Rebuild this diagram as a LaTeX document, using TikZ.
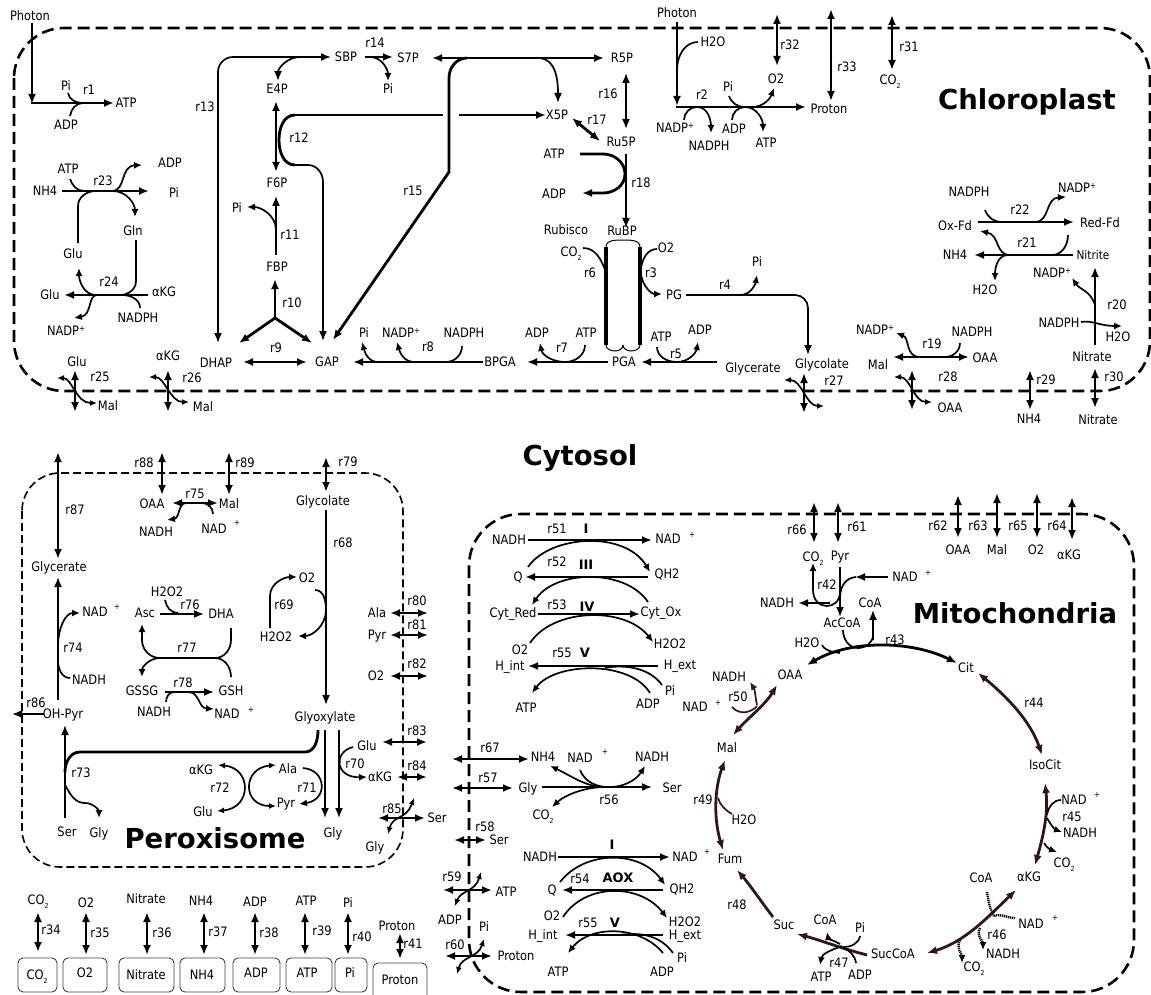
\documentclass[tikz,border=0pt]{standalone}
\usepackage{fontspec}
\setmainfont{DejaVu Sans}[FakeStretch=0.88]
\newfontfamily\bigf{DejaVu Sans}
\usetikzlibrary{arrows.meta}
\definecolor{tcac}{RGB}{50,22,22}
\newcommand\fs{\fontsize{13}{14}\selectfont}
\newcommand\COt{CO\raisebox{-3.5pt}{\fontsize{7}{7}\selectfont 2}}
\newcommand\NADPp{NADP\raisebox{4pt}{\fontsize{8}{8}\selectfont +}}
\newcommand\Lb[3]{\node[lab] (#1) at (#2) {#3};}
\newcommand\Pl[2]{\node[smp] (#1) at (#2) {+};}
\begin{document}
\begin{tikzpicture}[x=1pt,y=-1pt,
  lab/.style={inner sep=0pt,text height=9.5pt,text depth=0pt,font=\fs},
  smp/.style={inner sep=0pt,font=\fontsize{8}{8}\selectfont},
  big/.style={inner sep=0pt,font=\bigf\bfseries\fontsize{27.5}{30}\selectfont},
  rom/.style={inner sep=0pt,font=\bigf\bfseries\fontsize{13}{14}\selectfont},
  mn/.style={line width=2.8pt},
  md/.style={line width=2.2pt},
  tn/.style={line width=1.7pt},
  ar/.style={-{Latex[length=10pt,width=8pt]}},
  dar/.style={{Latex[length=10pt,width=8pt]}-{Latex[length=10pt,width=8pt]}},
  sar/.style={-{Latex[length=8pt,width=7pt]}},
  sdar/.style={{Latex[length=7pt,width=6pt]}-{Latex[length=7pt,width=6pt]}},
  memb/.style={line width=2.6pt,dash pattern=on 12pt off 6pt},
  pmemb/.style={line width=1.6pt,dash pattern=on 8pt off 4pt},
  tca/.style={draw=tcac},
  hatch/.style={line width=2.4pt,dash pattern=on 1.2pt off 0.8pt},
  xbox/.style={draw=black!75,line width=0.9pt,rounded corners=5pt}
]
\useasboundingbox (0,0) rectangle (1151,995);
% ================= compartments
\draw[memb, rounded corners=50pt] (14,28) rectangle (1150,391);
\draw[pmemb, rounded corners=38pt] (22,473) rectangle (403,867);
\draw[memb, rounded corners=52pt] (469,514) rectangle (1134,992);
\node[big] (chl) at (1027,102) {Chloroplast};
\node[big] (cyt) at (580,458) {Cytosol};
\node[big] (mit) at (1015,613) {Mitochondria};
\node[big] (per) at (215,838) {Peroxisome};
% ================= r1
\Lb{phA}{30,16}{Photon}
\Lb{piA}{66,86}{Pi}
\Lb{r1}{89,90}{r1}
\Lb{atpA}{126,103}{ATP}
\Lb{adpA}{66,125}{ADP}
\draw[md,ar] (32,23) -- (32,104);
\draw[md,ar] (31,103) -- (114,103);
\draw[tn] (68,93) to[out=-80,in=180] (83,103);
\draw[tn] (70,116) to[out=80,in=180] (83,103);
% ================= r23 / r24
\Lb{atpB}{68,169}{ATP}
\Lb{r23}{103,181}{r23}
\Lb{adpB}{170,163}{ADP}
\Lb{nhA}{45,191}{NH4}
\Lb{piB}{174,193}{Pi}
\Lb{gln}{133,231}{Gln}
\Lb{gluA}{73,254}{Glu}
\Lb{gluB}{50,295}{Glu}
\Lb{akgA}{164,292}{αKG}
\Lb{r24}{109,282}{r24}
\Lb{nadphA}{138,318}{NADPH}
\Lb{nadpA}{66,331}{\NADPp}
\draw[mn,ar] (62,191) -- (149,191);
\draw[tn] (70,179) to[out=-70,in=180] (84,191);
\draw[tn,sar] (112,191) .. controls (126,191) and (120,166) .. (142,165);
\draw[tn,sar] (113,191) to[out=0,in=90] (135,217);
\draw[tn] (78,243) -- (78,206) to[out=90,in=180] (96,191);
\draw[tn] (136,240) -- (136,281) to[out=-90,in=0] (120,295);
\draw[mn,ar] (148,295) -- (64,295);
\draw[tn,sar] (96,295) to[out=180,in=-90] (79,268);
\draw[tn] (140,308) to[out=90,in=0] (122,295);
\draw[tn,sar] (97,295) .. controls (88,295) and (92,315) .. (74,318);
% ================= Calvin cycle
\Lb{e4p}{277,89}{E4P}
\Lb{f6p}{277,183}{F6P}
\Lb{fbp}{277,267}{FBP}
\Lb{r12}{299,138}{r12}
\Lb{r13}{205,107}{r13}
\Lb{r11}{290,235}{r11}
\Lb{piC}{237,208}{Pi}
\Lb{r10}{292,303}{r10}
\Lb{dhap}{216,363}{DHAP}
\Lb{r9}{276,348}{r9}
\Lb{gap}{327,362}{GAP}
\Lb{sbp}{346,57}{SBP}
\Lb{r14}{375,43}{r14}
\Lb{s7p}{408,58}{S7P}
\Lb{piD}{388,89}{Pi}
\Lb{r5p}{622,58}{R5P}
\Lb{x5p}{557,115}{X5P}
\Lb{r15}{413,191}{r15}
\Lb{r16}{608,94}{r16}
\Lb{ru5p}{621,142}{Ru5P}
\Lb{r17}{597,120}{r17}
\Lb{atpC}{554,154}{ATP}
\Lb{adpC}{554,194}{ADP}
\Lb{r18}{641,183}{r18}
\Lb{rubp}{622,231}{RuBP}
\Lb{rubisco}{566,230}{Rubisco}
\Lb{coA}{571,252}{\COt}
\Lb{r6}{590,273}{r6}
\Lb{r3}{651,273}{r3}
\Lb{oA}{666,248}{O2}
\Lb{pg}{674,295}{PG}
\Lb{r4}{725,285}{r4}
\Lb{piE}{757,262}{Pi}
\Lb{glyc}{822,364}{Glycolate}
\Lb{r27}{834,381}{r27}
\Lb{glyA}{753,368}{Glycerate}
\Lb{pga}{624,362}{PGA}
\Lb{atpD}{661,337}{ATP}
\Lb{adpD}{700,330}{ADP}
\Lb{r5}{676,354}{r5}
\Lb{adpE}{537,333}{ADP}
\Lb{atpE}{586,333}{ATP}
\Lb{r7}{562,348}{r7}
\Lb{bpga}{500,362}{BPGA}
\Lb{nadphB}{464,333}{NADPH}
\Lb{nadpB}{401,333}{\NADPp}
\Lb{piF}{364,333}{Pi}
\Lb{r8}{428,347}{r8}
% r12
\draw[mn,dar] (276,101) -- (276,172);
\draw[mn] (295,115) to[out=180,in=90] (279,140) to[out=-90,in=180] (295,165);
\draw[mn] (295,115) -- (443,115);
\draw[mn,ar] (459,115) -- (546,115);
\draw[tn,ar] (295,165) -- (308,165) to[out=0,in=90] (323,182) -- (323,341);
% r13
\draw[tn,dar] (218,343) -- (218,72) to[out=90,in=180] (233,57) -- (331,57);
\draw[tn,ar] (300,57) to[out=180,in=90] (278,81);
% r14
\draw[mn,ar] (365,57) -- (393,57);
\draw[tn,sar] (370,57) to[out=0,in=90] (388,81);
% r15
\draw[mn,dar] (432,58) -- (604,58);
\draw[tn,ar] (538,58) to[out=0,in=90] (558,103);
\draw[mn,ar] (467,58) to[out=180,in=90] (449,78) -- (449,172) -- (333,340);
% r16 r17 r18
\draw[tn,dar] (626,73) -- (626,129);
\draw[mn,dar] (572,118) -- (600,141);
\draw[tn,ar] (626,154) -- (626,228);
\draw[mn,ar] (580,154) -- (603,154) to[out=0,in=90] (625,174) to[out=-90,in=0] (603,193) -- (582,193);
% r6 / r3
\draw[line width=3.5pt] (606,247) -- (606,345);
\draw[line width=3.5pt] (640,247) -- (640,345);
\draw[line width=1pt] (606,247) to[out=90,in=180] (623,240) to[out=0,in=90] (640,247);
\draw[line width=1pt] (606,345) to[out=-90,in=180] (615,351) to[out=0,in=-90] (623,345);
\draw[line width=1pt] (640,345) to[out=-90,in=0] (631,351) to[out=180,in=-90] (623,345);
\draw[tn] (583,248) to[out=0,in=110] (605,270);
\draw[tn] (657,249) to[out=180,in=80] (641,268);
\draw[tn,sar] (641,275) to[out=-80,in=180] (662,294);
% r4
\draw[tn,ar] (686,295) -- (795,295) to[out=0,in=90] (808,308) -- (808,355);
\draw[tn,sar] (740,295) to[out=0,in=-100] (757,275);
% r27
\draw[mn,dar] (804,373) -- (804,413);
\draw[tn,sdar] (784,380) .. controls (802,380) and (806,406) .. (824,406);
% r5 r7 r8
\draw[mn,ar] (717,362) -- (641,362);
\draw[tn,sar] (657,347) to[out=-90,in=180] (677,362) to[out=0,in=-100] (698,342);
\draw[mn,ar] (608,362) -- (527,362);
\draw[tn,sar] (585,345) to[out=-90,in=0] (565,362) to[out=180,in=-80] (540,343);
\draw[mn,ar] (483,362) -- (353,362);
\draw[tn,sar] (462,346) to[out=-90,in=0] (446,362) -- (414,362) to[out=180,in=-75] (397,342);
\draw[tn,sar] (378,362) to[out=180,in=-75] (362,342);
% r9 r10 r11
\draw[mn,dar] (243,362) -- (307,362);
\draw[mn,ar] (275,318) -- (275,279);
\draw[mn,ar] (275,318) -- (239,343);
\draw[mn,ar] (275,318) -- (312,343);
\draw[tn,ar] (276,255) -- (276,196);
\draw[tn,sar] (276,230) to[out=90,in=0] (247,207);
% ================= r2 and transports
\Lb{phB}{677,13}{Photon}
\Lb{h2oA}{713,42}{H2O}
\Lb{r2}{702,95}{r2}
\Lb{nadpC}{675,128}{\NADPp}
\Lb{nadphC}{709,146}{NADPH}
\Lb{piG}{728,87}{Pi}
\Lb{adpF}{734,129}{ADP}
\Lb{atpF}{766,143}{ATP}
\Lb{oB}{776,79}{O2}
\Lb{protA}{829,109}{Proton}
\Lb{r32}{790,45}{r32}
\Lb{r33}{847,67}{r33}
\Lb{r31}{909,47}{r31}
\Lb{coB}{890,80}{\COt}
\draw[mn,ar] (677,22) -- (677,106);
\draw[mn,ar] (676,107) -- (806,107);
\draw[tn] (698,42) to[out=180,in=90] (677,70);
\draw[tn,sar] (684,120) to[out=90,in=180] (697,107) to[out=0,in=90] (711,133);
\draw[tn,sar] (732,120) to[out=90,in=180] (745,107) to[out=0,in=90] (763,132);
\draw[tn] (729,96) to[out=-70,in=180] (745,107);
\draw[tn,sar] (752,107) to[out=0,in=-110] (774,88);
\draw[mn,dar] (777,14) -- (777,66);
\draw[mn,dar] (831,9) -- (831,101);
\draw[mn,dar] (892,15) -- (892,70);
% ================= r19-r22, r28-r30
\Lb{nadphD}{969,192}{NADPH}
\Lb{nadpD}{1077,188}{\NADPp}
\Lb{r22}{1020,210}{r22}
\Lb{oxfd}{955,226}{Ox-Fd}
\Lb{redfd}{1100,223}{Red-Fd}
\Lb{nhB}{955,255}{NH4}
\node[inner sep=0pt,text height=8.5pt,text depth=0pt,font=\fontsize{12}{13}\selectfont] (nitrite) at (1093,255) {Nitrite};
\Lb{r21}{1027,243}{r21}
\Lb{h2oB}{985,290}{H2O}
\Lb{nadpE}{1052,273}{\NADPp}
\Lb{r20}{1117,305}{r20}
\Lb{nadphE}{1059,323}{NADPH}
\Lb{h2oC}{1118,337}{H2O}
\Lb{nitA}{1092,357}{Nitrate}
\Lb{nadpF}{875,330}{\NADPp}
\Lb{nadphF}{972,332}{NADPH}
\Lb{malA}{878,365}{Mal}
\Lb{oaaA}{985,358}{OAA}
\Lb{r19}{932,344}{r19}
\Lb{r28}{948,377}{r28}
\Lb{oaaB}{950,408}{OAA}
\Lb{r29}{1046,380}{r29}
\Lb{nhC}{1029,419}{NH4}
\Lb{r30}{1114,377}{r30}
\Lb{nitB}{1098,420}{Nitrate}
\draw[mn,ar] (978,222) -- (1074,222);
\draw[tn] (985,210) to[out=-70,in=180] (1002,222);
\draw[tn,sar] (1035,222) .. controls (1050,222) and (1045,198) .. (1066,197);
\draw[mn,ar] (1073,255) -- (974,255);
\draw[tn,sar] (1010,255) .. controls (995,255) and (1000,235) .. (980,231);
\draw[tn] (1068,235) to[out=-90,in=0] (1052,255);
\draw[tn,sar] (1008,255) to[out=180,in=90] (995,281);
\draw[mn,ar] (1095,345) -- (1095,267);
\draw[tn,sar] (1095,305) .. controls (1090,290) and (1080,290) .. (1072,278);
\draw[tn,sar] (1081,322) .. controls (1092,320) and (1100,326) .. (1122,326);
\draw[mn,dar] (893,357) -- (969,357);
\draw[tn,sar] (920,357) .. controls (905,357) and (910,338) .. (896,333);
\draw[tn] (960,343) to[out=-90,in=0] (945,357);
\draw[mn,dar] (912,370) -- (912,410);
\draw[tn,sdar] (894,377) .. controls (910,377) and (914,402) .. (932,402);
\draw[mn,dar] (1030,370) -- (1030,410);
\draw[mn,dar] (1095,368) -- (1095,408);
% r25 r26
\Lb{gluC}{77,362}{Glu}
\Lb{r25}{100,377}{r25}
\Lb{malB}{108,406}{Mal}
\Lb{akgB}{168,356}{αKG}
\Lb{r26}{192,378}{r26}
\Lb{malC}{203,407}{Mal}
\draw[mn,dar] (75,370) -- (75,412);
\draw[tn,sdar] (57,378) .. controls (72,378) and (76,403) .. (97,403);
\draw[mn,dar] (168,370) -- (168,412);
\draw[tn,sdar] (149,377) .. controls (165,377) and (170,402) .. (189,402);
% ================= Peroxisome
\Lb{r87}{75,510}{r87}
\Lb{glyB}{59,567}{Glycerate}
\Lb{r88}{144,463}{r88}
\Lb{oaaC}{152,504}{OAA}
\Lb{r89}{245,463}{r89}
\Lb{malD}{229,504}{Mal}
\Lb{r75}{195,494}{r75}
\Lb{nadhA}{156,532}{NADH}
\Lb{nadA}{214,529}{NAD}\Pl{nadAp}{237,523}
\draw[mn,dar] (58,452) -- (58,559);
\draw[mn,dar] (162,452) -- (162,495);
\draw[mn,dar] (229,452) -- (229,495);
\draw[mn,dar] (172,503) -- (218,503);
\draw[tn,sar] (186,503) .. controls (178,503) and (180,518) .. (167,520);
\draw[tn] (213,514) to[out=90,in=0] (202,503);
% r74 r86 r73
\Lb{nadB}{95,612}{NAD}\Pl{nadBp}{117,607}
\Lb{r74}{73,648}{r74}
\Lb{nadhB}{89,680}{NADH}
\Lb{ohpyr}{63,714}{OH-Pyr}
\Lb{r86}{36,703}{r86}
\Lb{serA}{67,832}{Ser}
\Lb{glyC}{99,833}{Gly}
\Lb{r73}{81,773}{r73}
\draw[tn,ar] (58,700) -- (58,577);
\draw[tn,sar] (58,645) to[out=90,in=180] (80,613);
\draw[tn] (58,660) to[out=-90,in=180] (70,678);
\draw[tn,ar] (44,714) -- (12,714);
\draw[tn,ar] (65,818) -- (65,725);
\draw[mn] (65,772) to[out=90,in=180] (80,752) -- (305,752) to[out=0,in=-90] (318,730);
\draw[tn,sar] (65,785) to[out=-60,in=180] (85,803) to[out=0,in=90] (99,818);
% glyoxylate
\Lb{glx}{325,717}{Glyoxylate}
\Lb{glyD}{333,833}{Gly}
\Lb{glycB}{323,501}{Glycolate}
\Lb{r68}{343,543}{r68}
\Lb{r79}{348,462}{r79}
\Lb{oC}{307,578}{O2}
\Lb{r69}{284,605}{r69}
\Lb{hhA}{276,637}{H2O2}
\draw[tn,ar] (325,730) -- (325,818);
\draw[tn,ar] (339,730) -- (339,818);
\draw[tn,ar] (326,510) -- (326,705);
\draw[mn,dar] (326,457) -- (326,492);
\draw[tn,sar] (270,628) -- (270,596) to[out=90,in=180] (297,577);
\draw[tn,sar] (315,590) to[out=0,in=90] (326,610) to[out=-90,in=0] (298,636);
% r76 r77 r78
\Lb{asc}{145,613}{Asc}
\Lb{hhB}{167,592}{H2O2}
\Lb{r76}{190,605}{r76}
\Lb{dha}{221,614}{DHA}
\Lb{r77}{187,648}{r77}
\Lb{gssg}{142,691}{GSSG}
\Lb{gsh}{231,691}{GSH}
\Lb{r78}{183,683}{r78}
\Lb{nadhC}{154,712}{NADH}
\Lb{nadC}{227,714}{NAD}\Pl{nadCp}{251,710}
\draw[tn,ar] (160,614) -- (204,614);
\draw[tn] (165,600) to[out=-80,in=180] (178,613);
\draw[mn] (160,658) -- (215,658);
\draw[tn,sar] (160,658) to[out=180,in=-90] (142,640) -- (142,624);
\draw[tn,sar] (160,658) to[out=180,in=90] (142,677);
\draw[tn] (215,658) to[out=0,in=-90] (231,640) -- (231,628);
\draw[tn] (215,658) to[out=0,in=90] (231,677);
\draw[tn,ar] (165,692) -- (214,692);
\draw[tn] (166,702) to[out=90,in=180] (174,692);
\draw[tn,sar] (188,692) .. controls (200,692) and (198,708) .. (214,709);
% r71 r72 r70
\Lb{akgC}{201,770}{αKG}
\Lb{alaA}{288,769}{Ala}
\Lb{r72}{220,788}{r72}
\Lb{gluD}{203,812}{Glu}
\Lb{pyrA}{286,803}{Pyr}
\Lb{r71}{307,788}{r71}
\Lb{gluE}{367,746}{Glu}
\Lb{r70}{355,764}{r70}
\Lb{akgD}{380,777}{αKG}
\draw[tn,sdar] (218,765) .. controls (252,768) and (252,808) .. (217,811);
\draw[tn,sdar] (276,765) .. controls (242,768) and (242,806) .. (276,806);
\draw[tn,sar] (303,768) .. controls (327,770) and (328,800) .. (299,804);
\draw[tn,sar] (353,747) .. controls (333,752) and (335,778) .. (367,777);
% r80 - r85
\Lb{alaB}{377,613}{Ala}
\Lb{r80}{417,601}{r80}
\Lb{pyrB}{377,635}{Pyr}
\Lb{r81}{417,625}{r81}
\Lb{oD}{376,676}{O2}
\Lb{r82}{417,664}{r82}
\Lb{r83}{417,731}{r83}
\Lb{r84}{417,766}{r84}
\Lb{serB}{437,818}{Ser}
\Lb{r85}{392,809}{r85}
\Lb{glyE}{375,847}{Gly}
\draw[mn,dar] (390,613) -- (428,613);
\draw[mn,dar] (390,635) -- (428,635);
\draw[mn,dar] (390,676) -- (428,676);
\draw[mn,dar] (382,742) -- (427,742);
\draw[mn,dar] (397,777) -- (427,777);
\draw[mn,dar] (378,818) -- (425,818);
\draw[tn,sdar] (388,834) .. controls (393,815) and (406,820) .. (414,798);
% ================= exchange boxes
\Lb{coC}{38,900}{\COt}
\Lb{r34}{51,930}{r34}
\Lb{oE}{86,903}{O2}
\Lb{r35}{100,933}{r35}
\Lb{nitC}{146,899}{Nitrate}
\Lb{r36}{162,933}{r36}
\Lb{nhD}{201,901}{NH4}
\Lb{r37}{218,932}{r37}
\Lb{adpG}{255,902}{ADP}
\Lb{r38}{269,933}{r38}
\Lb{atpG}{306,901}{ATP}
\Lb{r39}{322,931}{r39}
\Lb{piH}{348,903}{Pi}
\Lb{r40}{362,937}{r40}
\Lb{protB}{397,926}{Proton}
\Lb{r41}{413,944}{r41}
\draw[xbox] (18,958) rectangle (57,992); \Lb{bCO}{37,975}{\COt}
\draw[xbox] (63,958) rectangle (107,992); \Lb{bO}{85,973}{O2}
\draw[xbox] (119,958) rectangle (174,992); \Lb{bNit}{146,975}{Nitrate}
\draw[xbox] (180,958) rectangle (225,992); \Lb{bNH}{202,975}{NH4}
\draw[xbox] (233,958) rectangle (280,992); \Lb{bADP}{256,973}{ADP}
\draw[xbox] (286,958) rectangle (332,992); \Lb{bATP}{307,973}{ATP}
\draw[xbox] (335,958) rectangle (367,992); \Lb{bPi}{350,973}{Pi}
\draw[xbox] (373,963) rectangle (427,1000); \Lb{bProt}{400,980}{Proton}
\draw[mn,dar] (38,912) -- (38,952);
\draw[mn,dar] (86,912) -- (86,955);
\draw[mn,dar] (147,912) -- (147,955);
\draw[mn,dar] (204,912) -- (204,955);
\draw[mn,dar] (255,912) -- (255,955);
\draw[mn,dar] (305,912) -- (305,955);
\draw[mn,dar] (348,912) -- (348,955);
\draw[mn,dar] (400,933) -- (400,959);
% ================= Mitochondria transports
\Lb{nhE}{543,757}{NH4}
\Lb{r67}{490,748}{r67}
\Lb{glyF}{528,788}{Gly}
\Lb{r57}{488,778}{r57}
\Lb{serC}{499,840}{Ser}
\Lb{r58}{485,827}{r58}
\Lb{atpH}{506,892}{ATP}
\Lb{r59}{452,877}{r59}
\Lb{adpH}{450,920}{ADP}
\Lb{protC}{516,956}{Proton}
\Lb{r60}{455,945}{r60}
\Lb{piI}{484,927}{Pi}
\draw[mn,dar] (452,759) -- (529,759);
\draw[mn,dar] (452,788) -- (513,788);
\draw[mn,dar] (454,840) -- (486,840);
\draw[mn,dar] (443,890) -- (492,890);
\draw[tn,sdar] (455,906) .. controls (461,890) and (475,892) .. (481,872);
\draw[mn,dar] (445,956) -- (492,956);
\draw[tn,sdar] (457,974) .. controls (462,956) and (478,958) .. (484,939);
% ================= ETC upper
\Lb{nadhD}{509,540}{NADH}
\Lb{r51}{557,529}{r51}
\node[rom] (cI) at (586,529) {I};
\Lb{nadD}{668,539}{NAD}\Pl{nadDp}{692,535}
\Lb{qA}{518,577}{Q}
\Lb{r52}{557,562}{r52}
\node[rom] (cIII) at (586,565) {III};
\Lb{qhA}{667,574}{QH2}
\Lb{cytred}{513,613}{Cyt\_Red}
\Lb{r53}{557,605}{r53}
\node[rom] (cIV) at (587,607) {IV};
\Lb{cytox}{661,612}{Cyt\_Ox}
\Lb{oF}{520,650}{O2}
\Lb{hhC}{670,644}{H2O2}
\Lb{r55a}{562,653}{r55}
\node[rom] (cV) at (585,653) {V};
\Lb{hintA}{510,666}{H\_int}
\Lb{hextA}{680,665}{H\_ext}
\Lb{atpI}{526,708}{ATP}
\Lb{adpI}{648,704}{ADP}
\Lb{piJ}{670,691}{Pi}
\draw[mn,ar] (528,540) -- (652,540);
\draw[tn,sar] (528,567) .. controls (550,535) and (625,530) .. (650,572);
\draw[mn,ar] (648,577) -- (525,577);
\draw[tn,sar] (648,602) .. controls (625,568) and (555,570) .. (532,605);
\draw[mn,ar] (538,614) -- (640,614);
\draw[tn,sar] (530,643) .. controls (553,608) and (625,606) .. (653,642);
\draw[mn,ar] (658,666) -- (528,666);
\draw[tn,sar] (650,693) .. controls (630,660) and (555,662) .. (532,693);
\draw[tn] (662,685) .. controls (650,668) and (625,664) .. (605,668);
% ================= ETC lower
\Lb{nadhE}{540,857}{NADH}
\node[rom] (cI2) at (612,845) {I};
\Lb{nadE}{685,857}{NAD}\Pl{nadEp}{707,852}
\Lb{qB}{552,890}{Q}
\Lb{r54}{580,879}{r54}
\node[rom] (aox) at (618,878) {AOX};
\Lb{qhB}{682,889}{QH2}
\Lb{oG}{552,916}{O2}
\Lb{hhD}{685,922}{H2O2}
\Lb{r55b}{588,923}{r55}
\node[rom] (cV2) at (615,923) {V};
\Lb{hintB}{543,935}{H\_int}
\Lb{hextB}{685,935}{H\_ext}
\Lb{atpJ}{558,972}{ATP}
\Lb{adpJ}{662,972}{ADP}
\Lb{piK}{682,958}{Pi}
\draw[mn,ar] (558,857) -- (670,857);
\draw[mn,ar] (663,890) -- (562,890);
\draw[tn,sar] (560,882) .. controls (585,850) and (640,850) .. (665,885);
\draw[tn,sar] (563,917) .. controls (585,883) and (640,883) .. (667,918);
\draw[mn,ar] (663,935) -- (565,935);
\draw[tn,sar] (663,953) .. controls (640,925) and (590,925) .. (568,953);
\draw[tn] (673,953) .. controls (660,935) and (640,932) .. (620,935);
% ================= r56
\Lb{nadF}{580,758}{NAD}\Pl{nadFp}{605,752}
\Lb{nadhF}{652,757}{NADH}
\Lb{serD}{672,788}{Ser}
\Lb{r56}{609,800}{r56}
\Lb{coD}{543,815}{\COt}
\draw[tn,ar] (542,787) -- (652,787);
\draw[tn,sar] (605,787) .. controls (585,787) and (570,775) .. (550,766);
\draw[tn,sar] (605,787) .. controls (585,787) and (565,795) .. (552,807);
\draw[tn,sar] (580,770) .. controls (590,795) and (630,790) .. (645,766);
% ================= mito membrane transports (top)
\Lb{pyrC}{840,556}{Pyr}
\Lb{coE}{813,557}{\COt}
\Lb{r66}{797,530}{r66}
\Lb{r61}{857,527}{r61}
\Lb{r62}{938,526}{r62}
\Lb{oaaD}{958,550}{OAA}
\Lb{r63}{978,526}{r63}
\Lb{malE}{997,550}{Mal}
\Lb{r65}{1018,526}{r65}
\Lb{oH}{1036,550}{O2}
\Lb{r64}{1057,526}{r64}
\Lb{akgE}{1069,555}{αKG}
\draw[mn,dar] (814,502) -- (814,543);
\draw[mn,dar] (838,502) -- (838,543);
\draw[mn,dar] (958,495) -- (958,538);
\draw[mn,dar] (997,493) -- (997,538);
\draw[mn,dar] (1037,493) -- (1037,538);
\draw[mn,dar] (1072,497) -- (1072,540);
% r42
\Lb{r42}{827,585}{r42}
\Lb{nadhG}{777,603}{NADH}
\Lb{nadG}{905,577}{NAD}\Pl{nadGp}{928,573}
\Lb{coaA}{870,603}{CoA}
\Lb{accoa}{842,623}{AcCoA}
\draw[tn,ar] (840,567) -- (840,617);
\draw[tn,sar] (840,592) .. controls (840,611) and (813,611) .. (813,590) -- (813,563);
\draw[mn,ar] (830,603) -- (798,603);
\draw[mn,ar] (888,577) -- (855,577);
\draw[tn] (856,577) .. controls (846,578) and (841,585) .. (840,596);
% r43
\Lb{r43}{895,640}{r43}
\Lb{cit}{966,668}{Cit}
\Lb{oaaE}{790,675}{OAA}
\Lb{h2oD}{807,643}{H2O}
\draw[mn,dar] (807,665) .. controls (850,640) and (910,640) .. (957,663);
\draw[tn] (843,630) to[out=-90,in=180] (858,648) to[out=0,in=-90] (873,635);
\draw[tn,ar] (873,640) -- (873,610);
\draw[tn] (822,645) to[out=-60,in=170] (840,653);
% TCA
\Lb{nadhH}{729,677}{NADH}
\Lb{nadH}{695,707}{NAD}\Pl{nadHp}{718,703}
\Lb{r50}{738,697}{r50}
\Lb{malF}{727,748}{Mal}
\Lb{r49}{703,800}{r49}
\Lb{h2oE}{744,820}{H2O}
\Lb{fum}{730,859}{Fum}
\Lb{r48}{737,905}{r48}
\Lb{suc}{784,925}{Suc}
\Lb{succoa}{893,954}{SucCoA}
\Lb{coaB}{825,920}{CoA}
\Lb{piL}{860,928}{Pi}
\Lb{r47}{839,963}{r47}
\Lb{atpK}{821,977}{ATP}
\Lb{adpK}{860,975}{ADP}
\Lb{coaC}{981,878}{CoA}
\Lb{akgF}{1029,877}{αKG}
\Lb{nadI}{1031,924}{NAD}\Pl{nadIp}{1055,918}
\Lb{r46}{997,935}{r46}
\Lb{nadhI}{1003,954}{NADH}
\Lb{coF}{974,967}{\COt}
\Lb{isocit}{1045,765}{IsoCit}
\Lb{nadJ}{1074,800}{NAD}\Pl{nadJp}{1097,795}
\Lb{r45}{1072,817}{r45}
\Lb{nadhJ}{1080,833}{NADH}
\Lb{coG}{1064,863}{\COt}
\Lb{r44}{1034,703}{r44}
\draw[mn,dar,tca] (777,685) .. controls (765,705) and (748,718) .. (733,735);
\draw[tn,sar,tca] (757,705) .. controls (755,695) and (755,690) .. (750,682);
\draw[tn,tca] (732,707) .. controls (740,716) and (752,712) .. (757,706);
\draw[mn,dar,tca] (725,760) .. controls (714,790) and (714,820) .. (723,850);
\draw[tn,tca] (732,814) .. controls (725,810) and (720,805) .. (718,798);
\draw[mn,ar,tca] (773,917) .. controls (760,900) and (750,885) .. (737,870);
\draw[mn,ar,tca] (867,955) .. controls (840,948) and (820,940) .. (797,934);
\draw[tn,sar] (840,944) to[out=150,in=-80] (827,932);
\draw[tn] (860,936) to[out=-100,in=0] (843,947);
\draw[tn,sar] (842,946) to[out=200,in=80] (820,965);
\draw[tn] (856,963) to[out=100,in=-20] (843,948);
\draw[mn,dar,tca] (1016,890) .. controls (990,915) and (965,942) .. (927,953);
\draw[hatch] (987,892) to[out=-80,in=120] (994,916);
\draw[hatch] (1015,918) to[out=180,in=20] (994,916);
\draw[hatch,sar] (980,928) to[out=-120,in=90] (983,950);
\draw[hatch,sar] (960,940) to[out=-120,in=90] (962,963);
\draw[mn,dar,tca] (1035,865) .. controls (1045,830) and (1048,810) .. (1045,783);
\draw[tn] (1061,800) to[out=180,in=80] (1047,815);
\draw[tn,sar] (1047,818) to[out=-60,in=160] (1062,832);
\draw[tn,sar] (1044,843) to[out=-60,in=160] (1057,852);
\draw[mn,dar,tca] (978,673) .. controls (1005,695) and (1030,720) .. (1042,755);
\end{tikzpicture}
\end{document}
